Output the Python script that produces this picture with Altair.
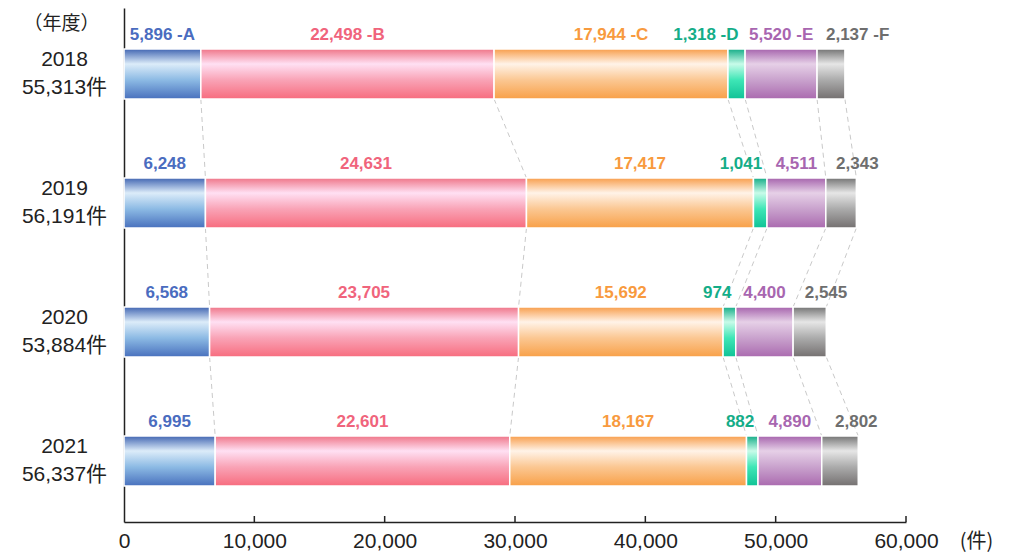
import json
import altair as alt
import pandas as pd

# ---------------- data ----------------
years = ["2018", "2019", "2020", "2021"]
categories = ["A", "B", "C", "D", "E", "F"]
val_A = [5896, 6248, 6568, 6995]
val_B = [22498, 24631, 23705, 22601]
val_C = [17944, 17417, 15692, 18167]
val_D = [1318, 1041, 974, 882]
val_E = [5520, 4511, 4400, 4890]
val_F = [2137, 2343, 2545, 2802]
x_ticks = [0, 10000, 20000, 30000, 40000, 50000, 60000]
year_unit = "件"

series = [val_A, val_B, val_C, val_D, val_E, val_F]

# ---------------- styles ----------------
FONT = "Liberation Sans, Noto Sans CJK JP, sans-serif"
CJK = "Noto Sans CJK JP, sans-serif"
label_colors = ["#4a6cbf", "#f0647c", "#f89a3e", "#14ad88", "#a866b0", "#6e6e6e"]
grad_stops = {
    "A": [(0, "#4266b2"), (0.3, "#dcecf9"), (0.62, "#8cbae4"), (1, "#4870bd")],
    "B": [(0, "#ef7588"), (0.3, "#ffe0f3"), (0.62, "#f9a3b6"), (1, "#f76c7e")],
    "C": [(0, "#f89e4c"), (0.3, "#fff3e8"), (0.62, "#fbc792"), (1, "#f8a048")],
    "D": [(0, "#16ad88"), (0.3, "#c8fbe9"), (0.62, "#3ee6b6"), (1, "#10c296")],
    "E": [(0, "#a664ad"), (0.3, "#e6d0e7"), (0.62, "#c9a2cd"), (1, "#aa6aaf")],
    "F": [(0, "#747474"), (0.3, "#e6e6e6"), (0.62, "#ababab"), (1, "#747070")],
}
HALF = 0.194  # half bar thickness in row units

# ---------------- tables ----------------
rows = []
ends = []
for i, yr in enumerate(years):
    cum = 0
    row_ends = []
    for k, cat in enumerate(categories):
        v = series[k][i]
        rows.append(dict(
            year=yr, idx=i, cat=cat, value=v, start=cum, end=cum + v,
            mid=cum + v / 2,
            label=f"{v:,}" + (f" -{cat}" if i == 0 else ""),
        ))
        cum += v
        row_ends.append(cum)
    ends.append(row_ends)
df = pd.DataFrame(rows)
totals = [sum(s[i] for s in series) for i in range(len(years))]

conn = []
for i in range(len(years) - 1):
    for k in range(len(categories)):
        conn.append(dict(xa=ends[i][k], xb=ends[i + 1][k], ia=i, ib=i + 1))
df_conn = pd.DataFrame(conn)
df_ticks = pd.DataFrame({"t": x_ticks[1:]})

row_labels = [[yr, f"{t:,}{year_unit}"] for yr, t in zip(years, totals)]
label_expr = "(" + json.dumps(row_labels, ensure_ascii=False) + ")[datum.value]"

# ---------------- scales / axes ----------------
W, H = 782, 514
xscale = alt.Scale(domain=[0, 60000], nice=False, zero=True)
yscale = alt.Scale(domain=[-0.5116, 3.4729], reverse=True, nice=False, zero=False)

xaxis = alt.Axis(
    values=x_ticks, format=",d", grid=False, ticks=False, tickSize=0,
    labelFont=FONT, labelFontSize=21, labelColor="#222", labelPadding=8,
    labelFlush=False, labelOverlap=False,
    domainColor="#222", domainWidth=1.5,
    title="(件)", titleFont=CJK, titleFontSize=20, titleFontWeight="normal",
    titleColor="#222", titleX=852, titleY=19, titleAlign="center",
    titleBaseline="middle", titleAngle=0,
)
yaxis = alt.Axis(
    values=[0, 1, 2, 3], grid=False, ticks=False, tickSize=0,
    labelExpr=label_expr, labelFont=FONT, labelFontSize=21, labelColor="#222",
    labelAlign="center", labelBaseline="middle", labelLineHeight=28,
    labelOffset=-14, labelPadding=60, domainColor="#222", domainWidth=1.5,
    title="（年度）", titleFont=CJK, titleFontSize=19, titleFontWeight="normal",
    titleColor="#222", titleAngle=0, titleX=-63, titleY=15,
    titleAlign="center", titleBaseline="middle",
)

X = lambda f: alt.X(f, type="quantitative", scale=xscale, axis=xaxis)
Y = lambda f: alt.Y(f, type="quantitative", scale=yscale, axis=yaxis)

# ---------------- layers ----------------
connectors = alt.Chart(df_conn).transform_calculate(
    ya=f"datum.ia + {HALF}", yb=f"datum.ib - {HALF}"
).mark_rule(color="#c9c9c9", strokeWidth=1, strokeDash=[5, 4]).encode(
    x=X("xa"), x2="xb:Q", y=Y("ya"), y2="yb:Q"
)

bars = []
for cat in categories:
    grad = alt.Gradient(
        gradient="linear", x1=0, x2=0, y1=0, y2=1,
        stops=[alt.GradientStop(offset=o, color=c) for o, c in grad_stops[cat]],
    )
    bars.append(
        alt.Chart(df).transform_filter(alt.datum.cat == cat).transform_calculate(
            y0=f"datum.idx - {HALF}", y1=f"datum.idx + {HALF}"
        ).mark_rect(fill=grad, stroke="white", strokeWidth=1.5).encode(
            x=X("start"), x2="end:Q", y=Y("y0"), y2="y1:Q"
        )
    )

color_enc = alt.Color("cat:N", scale=alt.Scale(domain=categories, range=label_colors), legend=None)

def text_layer(cats, align, dx):
    return alt.Chart(df).transform_filter(
        alt.FieldOneOfPredicate(field="cat", oneOf=cats)
    ).transform_calculate(
        y0=f"datum.idx - {HALF}"
    ).mark_text(
        align=align, baseline="alphabetic", dy=-9, dx=dx,
        font=FONT, fontSize=17, fontWeight="bold"
    ).encode(x=X("mid"), y=Y("y0"), text="label:N", color=color_enc)

labels_c = text_layer(["A", "B", "C", "E"], "center", 0)
labels_d = text_layer(["D"], "right", 2)
labels_f = text_layer(["F"], "left", -5)

ticks = alt.Chart(df_ticks).mark_rule(color="#222", strokeWidth=1.5).encode(
    x=X("t"), y=alt.value(H), y2=alt.value(H - 6)
)

chart = alt.layer(connectors, *bars, labels_c, labels_d, labels_f, ticks).properties(
    width=W, height=H,
    autosize=alt.AutoSizeParams(type="none"),
    padding={"left": 116, "top": 0, "right": 95, "bottom": 30},
    background="white",
).configure_view(stroke=None)

chart.save("out.html", embed_options={"renderer": "svg", "actions": False})
